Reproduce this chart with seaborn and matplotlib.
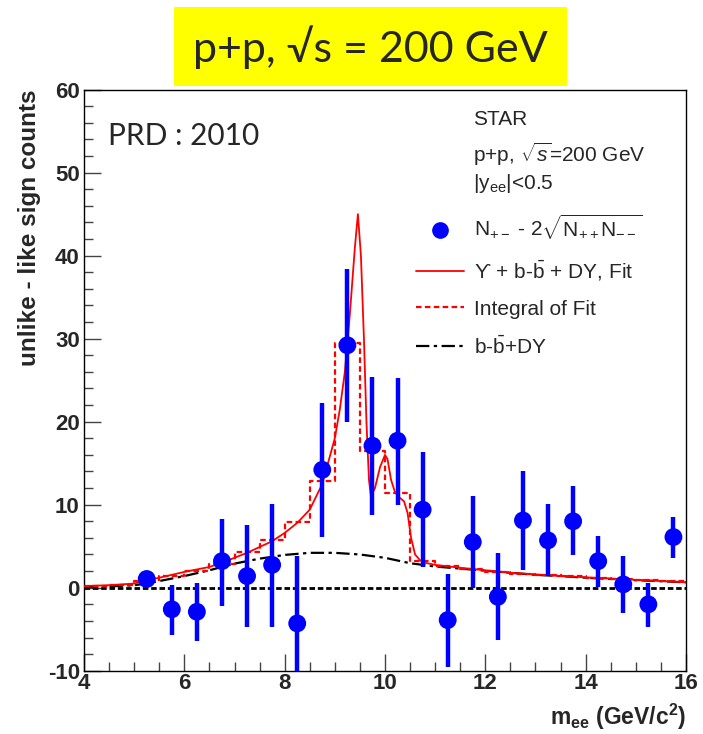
import numpy as np
import pandas as pd
import matplotlib
matplotlib.use("Agg")
import matplotlib.pyplot as plt
from matplotlib.lines import Line2D
from matplotlib.patches import Rectangle
from matplotlib.ticker import MultipleLocator
import seaborn as sns

# ---------------- data ----------------
mass = [5.25, 5.75, 6.25, 6.75, 7.25, 7.75, 8.25, 8.75, 9.25, 9.75, 10.25,
        10.75, 11.25, 11.75, 12.25, 12.75, 13.25, 13.75, 14.25, 14.75, 15.25, 15.75]
counts = [1.05, -2.6, -2.9, 3.2, 1.4, 2.75, -4.3, 14.2, 29.2, 17.1, 17.7,
          9.4, -3.9, 5.5, -1.1, 8.1, 5.7, 8.0, 3.2, 0.4, -2.0, 6.1]
err_up = [0.9, 2.9, 3.5, 5.1, 6.2, 7.35, 8.1, 8.0, 9.2, 8.3, 7.6,
          7.0, 5.6, 5.6, 5.3, 5.9, 4.4, 4.2, 3.0, 3.4, 2.6, 2.4]
err_dn = [0.9, 3.1, 3.5, 5.4, 6.1, 7.45, 8.1, 8.1, 9.2, 8.3, 7.7,
          6.85, 5.7, 5.5, 5.2, 6.0, 4.3, 4.1, 3.1, 3.5, 2.7, 2.5]

fit_x = [4.0, 4.5, 5.0, 5.25, 5.5, 6.0, 6.5, 6.75, 7.0, 7.25, 7.5, 7.75, 8.0, 8.25,
         8.5, 8.75, 9.0, 9.1, 9.2, 9.3, 9.4, 9.46, 9.52, 9.58, 9.63, 9.68, 9.72,
         9.8, 9.9, 10.0, 10.05, 10.12, 10.2, 10.3, 10.38, 10.45, 10.52, 10.6, 10.7,
         10.8, 11.0, 11.5, 12.0, 12.5, 13.0, 13.5, 14.0, 14.5, 15.0, 15.5, 16.0]
fit_y = [0.2, 0.3, 0.5, 0.9, 1.2, 1.9, 2.5, 3.0, 3.6, 4.2, 4.9, 5.6, 6.6, 7.8,
         9.4, 12.5, 18.0, 21.5, 26.0, 33.0, 41.0, 45.0, 40.0, 30.0, 20.0, 13.0, 11.0,
         12.0, 14.5, 16.0, 15.5, 13.0, 11.5, 10.8, 10.4, 9.0, 6.0, 4.0, 3.3,
         3.0, 2.75, 2.4, 2.1, 1.8, 1.6, 1.4, 1.25, 1.1, 0.95, 0.8, 0.65]

bg_x = [4.0, 4.5, 5.0, 5.25, 5.5, 6.0, 6.5, 7.0, 7.5, 8.0, 8.5, 9.0, 9.5, 10.0,
        10.5, 11.0, 11.5, 12.0, 12.5, 13.0, 13.5, 14.0, 14.5, 15.0, 15.5, 16.0]
bg_y = [0.1, 0.15, 0.3, 0.5, 0.8, 1.4, 2.1, 2.9, 3.5, 3.95, 4.2, 4.2, 4.0, 3.6,
        2.95, 2.55, 2.3, 2.05, 1.8, 1.55, 1.4, 1.2, 1.05, 0.9, 0.78, 0.65]

bin_edges = [4.0, 4.5, 5.0, 5.5, 6.0, 6.5, 7.0, 7.5, 8.0, 8.5, 9.0, 9.5, 10.0, 10.5,
             11.0, 11.5, 12.0, 12.5, 13.0, 13.5, 14.0, 14.5, 15.0, 15.5, 16.0]
integral = [0.15, 0.35, 0.8, 1.4, 2.0, 2.9, 4.3, 5.8, 7.9, 12.8, 29.5, 16.5, 11.4,
            3.2, 2.6, 2.2, 1.9, 1.7, 1.5, 1.35, 1.2, 1.05, 0.9, 0.75]

xticks = [4, 6, 8, 10, 12, 14, 16]
yticks = [-10, 0, 10, 20, 30, 40, 50, 60]

# ---------------- style ----------------
sns.set_style("white")
plt.rcParams["font.family"] = ["Liberation Sans", "DejaVu Sans"]
plt.rcParams["mathtext.fontset"] = "custom"
plt.rcParams["mathtext.rm"] = "Liberation Sans"
plt.rcParams["mathtext.it"] = "Liberation Sans:italic"
plt.rcParams["mathtext.bf"] = "Liberation Sans:bold"
plt.rcParams["axes.unicode_minus"] = False

fig = plt.figure(figsize=(7.03, 7.34), dpi=100)
ax = fig.add_axes([0.1195, 0.0862, 0.9758 - 0.1195, 0.878 - 0.0862])

# zero line
ax.axhline(0, color="black", lw=2.0, ls=(0, (2.0, 1.0)), zorder=1)

# background (b-bbar + DY)
sns.lineplot(x=bg_x, y=bg_y, ax=ax, color="black", lw=1.6, estimator=None, sort=False,
             linestyle=(0, (6, 2, 1.5, 2)), zorder=2)
# integral of fit (step)
step_df = pd.DataFrame({"m": bin_edges, "v": integral + [integral[-1]]})
sns.lineplot(data=step_df, x="m", y="v", ax=ax, color="red", lw=1.6, estimator=None,
             sort=False, drawstyle="steps-post", linestyle=(0, (2.5, 1.5)), zorder=2)
# fit
sns.lineplot(x=fit_x, y=fit_y, ax=ax, color="red", lw=1.3, estimator=None, sort=False,
             zorder=3)

# data points
ax.errorbar(mass, counts, yerr=[err_dn, err_up], fmt="none", ecolor="#0000FF",
            elinewidth=3.2, capsize=0, zorder=4)
sns.scatterplot(x=mass, y=counts, ax=ax, color="#0000FF", s=165, edgecolor="none",
                zorder=5)

ax.set_xlim(4, 16)
ax.set_ylim(-10, 60)
ax.set_xticks(xticks)
ax.set_yticks(yticks)
ax.xaxis.set_minor_locator(MultipleLocator(0.5))
ax.yaxis.set_minor_locator(MultipleLocator(2))
ax.tick_params(which="both", direction="in", top=False, right=False, bottom=True,
               left=True, color="#444444")
ax.tick_params(which="major", length=12.5, width=1.0)
ax.tick_params(which="minor", length=6.5, width=1.0)
ax.tick_params(axis="x", which="major", pad=1.5, labelsize=16)
ax.tick_params(axis="y", which="major", pad=3, labelsize=16)
for lab in ax.get_xticklabels() + ax.get_yticklabels():
    lab.set_fontweight("bold")
for s in ax.spines.values():
    s.set_color("black")
    s.set_linewidth(1.0)

ax.set_xlabel(r"$\mathbf{m_{ee}}$ (GeV/c$^{\mathbf{2}}$)", fontsize=16.5, fontweight="bold",
              loc="right", labelpad=6)
ax.set_ylabel("unlike - like sign counts", fontsize=17.5, fontweight="bold", loc="top",
              labelpad=5)

# texts
ax.text(0.647, 0.948, "STAR", transform=ax.transAxes, fontsize=15, va="center", ha="left")
ax.text(0.647, 0.888, r"p+p, $\sqrt{s}$=200 GeV", transform=ax.transAxes, fontsize=15,
        va="center", ha="left")
ax.text(0.647, 0.838, r"|y$_{\mathrm{ee}}$|<0.5", transform=ax.transAxes, fontsize=15,
        va="center", ha="left")
ax.text(0.04, 0.92, "PRD : 2010", transform=ax.transAxes, fontsize=21.5,
        family=["Lato", "DejaVu Sans"], va="center", ha="left")

handles = [
    Line2D([], [], ls="none", marker="o", color="#0000FF", markersize=11),
    Line2D([], [], color="red", lw=1.3),
    Line2D([], [], color="red", lw=1.6, ls=(0, (2.5, 1.5))),
    Line2D([], [], color="black", lw=1.6, ls=(0, (6, 2, 1.5, 2))),
]
labels = [
    r"N$_{+-}$ - 2$\sqrt{\mathrm{N_{++}N_{--}}}$",
    "ϒ + b-$\\bar{\\mathrm{b}}$ + DY, Fit",
    "Integral of Fit",
    r"b-$\bar{\mathrm{b}}$+DY",
]
ax.legend(handles, labels, loc="upper left", bbox_to_anchor=(0.545, 0.795), frameon=False,
          fontsize=15, handlelength=2.3, handletextpad=0.45, labelspacing=0.78,
          borderpad=0.2, borderaxespad=0)

# title box
fig.patches.append(Rectangle((174 / 703, 1 - 86 / 734), 393 / 703, 79 / 734,
                             transform=fig.transFigure, facecolor="#FFFF00",
                             edgecolor="none", zorder=0))
fig.text((174 + 567) / 2 / 703, 1 - 47 / 734, "p+p, √s = 200 GeV", fontsize=31,
         family=["Lato", "DejaVu Sans"], ha="center", va="center")

fig.savefig("out.png", dpi=100)
